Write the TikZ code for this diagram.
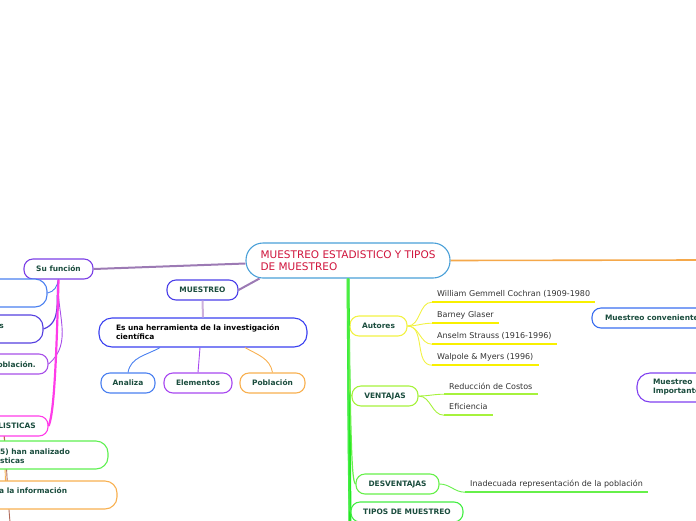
\documentclass[tikz,border=0pt]{standalone}
\usepackage{fontspec}
\setmainfont{DejaVu Sans}
\usepackage{tikz}
\definecolor{TitleBlue}{HTML}{4AA0D8}
\definecolor{TitleRed}{HTML}{D0143C}
\definecolor{TopicInk}{HTML}{1B4D3E}
\definecolor{LeafInk}{HTML}{333333}
\definecolor{BranchPurple}{HTML}{9C7AB4}
\definecolor{StemLilac}{HTML}{CDB0DC}
\definecolor{FunPurple}{HTML}{7B3FE6}
\definecolor{FnBlue}{HTML}{4A80F0}
\definecolor{FnIndigo}{HTML}{5540E0}
\definecolor{FnPurple}{HTML}{A850E8}
\definecolor{FnMagenta}{HTML}{FF3CE8}
\definecolor{FnGreen}{HTML}{5EF050}
\definecolor{FnOrange}{HTML}{F8B050}
\definecolor{LowBrown}{HTML}{B06A5A}
\definecolor{MuestBlue}{HTML}{4B3FE8}
\definecolor{HerrBlue}{HTML}{3A40F0}
\definecolor{AnalizaBlue}{HTML}{4A80F0}
\definecolor{ElemPurple}{HTML}{A848F0}
\definecolor{PoblOrange}{HTML}{F8B050}
\definecolor{OrangeLine}{HTML}{F5A84A}
\definecolor{TrunkGreen}{HTML}{22E822}
\definecolor{AutYellow}{HTML}{F2F244}
\definecolor{LeafYellow}{HTML}{F8F000}
\definecolor{VentLime}{HTML}{A6F23C}
\definecolor{DesvGreen}{HTML}{66F04A}
\definecolor{TiposGreen}{HTML}{44EE44}
\definecolor{ConvBlue}{HTML}{3A6EF0}
\definecolor{ImpPurple}{HTML}{8040F0}
\newcommand{\MapTopicFont}{\bfseries\fontsize{7.45}{9}\selectfont}
\newcommand{\MapLeafFont}{\fontsize{8}{9}\selectfont}
\newcommand{\MapTitleFont}{\fontsize{10.5}{12}\selectfont}

\begin{document}
\begin{tikzpicture}[x=1pt, y=-1pt,
	topic/.style={draw=#1, line width=1.1pt, rounded corners=9pt, fill=white,
		font=\MapTopicFont, text=TopicInk, inner sep=0pt, minimum height=20pt},
	bigtopic/.style={topic=#1, rounded corners=12pt, minimum height=28pt},
	cuttext/.style={font=\MapTopicFont, text=TopicInk, inner sep=0pt},
	leaf/.style={font=\MapLeafFont, text=LeafInk, inner xsep=5pt, inner ysep=0pt,
		minimum height=16pt, anchor=west},
	uline/.style={draw=#1, line width=1.6pt},
	link/.style={draw=#1, line width=0.9pt}]
	% the visible part of the map
	\useasboundingbox (0,0) rectangle (696,520);
	\clip (0,0) rectangle (696,520);

	% central topic
	\node[draw=TitleBlue, line width=1.1pt, rounded corners=17pt, fill=white,
		minimum width=204pt, minimum height=35pt, inner sep=0pt, align=left,
		font=\MapTitleFont, text=TitleRed] (title) at (348,260.5)
		{MUESTREO ESTADISTICO Y TIPOS\\DE MUESTREO};

	% green trunk and the branch to the right
	\coordinate (trunkend) at (350,522);
	\coordinate (rightend) at (698,260);
	\draw[TrunkGreen, line width=3pt] (title.south) -- (trunkend);
	\draw[OrangeLine, line width=1.6pt] (title.east) -- (rightend);

	% lines running behind the lower left boxes
	\coordinate (lowtop) at (4,432);
	\coordinate (lowmid) at (6,500);
	\coordinate (lowend) at (10,522);
	\draw[link=FnOrange] (lowtop) -- (lowmid);
	\draw[link=LowBrown] (lowtop) to[out=-85,in=95] (lowend);

	% Su funcion and its children
	\node[topic=FunPurple, minimum width=69pt] (fun) at (58.5,269) {Su función};
	\node[bigtopic=FnBlue, minimum width=160pt] (fnA) at (-33,293) {};
	\node[bigtopic=FnIndigo, minimum width=160pt] (fnB) at (-37,329) {};
	\node[cuttext, anchor=east] (fnBtxt) at (4,326) {s};
	\node[topic=FnPurple, minimum width=160pt] (fnC) at (-32,364) {};
	\node[cuttext, anchor=east] (fnCtxt) at (36,365) {oblación.};
	\node[topic=FnMagenta, minimum width=160pt] (fnD) at (-32,426) {};
	\node[cuttext, anchor=east] (fnDtxt) at (36,426) {LISTICAS};
	\node[bigtopic=FnGreen, minimum width=200pt] (fnE) at (8,455) {};
	\node[cuttext, anchor=west, align=left] (fnEtxt) at (0,456.5)
		{5) han analizado\\sticas};
	\node[bigtopic=FnOrange, minimum width=220pt] (fnF) at (7,495) {};
	\node[cuttext, anchor=west] (fnFtxt) at (-1,491) {a la información};

	\draw[BranchPurple, line width=2pt] ([yshift=-3pt]title.west) -- (fun.east);
	\draw[link=FnBlue] (fun.south) to[out=-100,in=10] (fnA.east);
	\draw[link=FnIndigo, line width=1.2pt] (fun.south) to[out=-100,in=20] (fnB.east);
	\draw[link=FnPurple] (fun.south) to[out=-95,in=40] (fnC.east);
	\draw[FnMagenta, line width=2.2pt] (fun.south) .. controls (56,380) and (53,416) .. (fnD.east);

	% MUESTREO
	\node[topic=MuestBlue, minimum width=71pt] (muestreo) at (202.5,290) {MUESTREO};
	\node[topic=HerrBlue, rounded corners=13pt, minimum width=208pt,
		minimum height=29pt, text width=174pt, align=left, text=black]
		(herram) at (203,332.5) {Es una herramienta de la investigación\\científica};
	\node[topic=AnalizaBlue, minimum width=54pt] (analiza) at (128,383) {Analiza};
	\node[topic=ElemPurple, minimum width=68pt] (elementos) at (198,383) {Elementos};
	\node[topic=PoblOrange, minimum width=65pt] (poblacion) at (272.5,383) {Población};

	\draw[BranchPurple, line width=2pt] ([xshift=14pt]title.south west) -- (muestreo.east);
	\draw[StemLilac, line width=2pt] (muestreo.south) -- (herram.north);
	\draw[link=AnalizaBlue] ([xshift=-43pt]herram.south) to[out=-150,in=80] (analiza.north);
	\draw[link=ElemPurple] ([xshift=-3pt]herram.south) -- (elementos.north);
	\draw[link=PoblOrange] ([xshift=42pt]herram.south) to[out=-30,in=100] (poblacion.north);

	% Autores
	\node[topic=AutYellow, minimum width=57pt] (autores) at (378.5,326) {Autores};
	\node[leaf] (cochran) at (432,294) {William Gemmell Cochran (1909-1980};
	\node[leaf] (glaser) at (432,315) {Barney Glaser};
	\node[leaf] (strauss) at (432,336) {Anselm Strauss (1916-1996)};
	\node[leaf] (walpole) at (432,357) {Walpole \& Myers (1996)};
	\draw[uline=LeafYellow] (cochran.south west) -- (cochran.south east);
	\draw[uline=LeafYellow] (glaser.south west) -- (glaser.south east);
	\draw[uline=LeafYellow] (strauss.south west) -- (strauss.south east);
	\draw[uline=LeafYellow] (walpole.south west) -- (walpole.south east);
	\draw[link=AutYellow] (autores.east) to[out=0,in=180] (cochran.south west);
	\draw[link=AutYellow] (autores.east) to[out=0,in=180] (glaser.south west);
	\draw[link=AutYellow] (autores.east) to[out=0,in=180] (strauss.south west);
	\draw[link=AutYellow] (autores.east) to[out=0,in=180] (walpole.south west);

	% VENTAJAS
	\node[topic=VentLime, minimum width=66pt] (ventajas) at (385,396) {VENTAJAS};
	\node[leaf] (costos) at (444,386) {Reducción de Costos};
	\node[leaf] (eficiencia) at (444,407) {Eficiencia};
	\draw[uline=VentLime] (costos.south west) -- (costos.south east);
	\draw[uline=VentLime] (eficiencia.south west) -- (eficiencia.south east);
	\draw[link=VentLime] (ventajas.east) to[out=0,in=180] (costos.south west);
	\draw[link=VentLime] (ventajas.east) to[out=0,in=180] (eficiencia.south west);

	% DESVENTAJAS
	\node[topic=DesvGreen, minimum width=83pt] (desv) at (397.5,484) {DESVENTAJAS};
	\node[leaf] (repres) at (465,484) {Inadecuada representación de la población};
	\draw[uline=DesvGreen] (repres.south west) -- (repres.south east);
	\draw[link=DesvGreen] (desv.east) to[out=0,in=180] (repres.south west);

	% TIPOS DE MUESTREO
	\node[topic=TiposGreen, minimum width=112pt] (tipos) at (407,512) {TIPOS DE MUESTREO};

	% branches off the trunk
	\draw[TrunkGreen, line width=1.5pt] (title.south) .. controls (348,310) and (349,326) .. (autores.west);
	\draw[VentLime, line width=1.2pt] (title.south) .. controls (348,370) and (349,396) .. (ventajas.west);
	\draw[DesvGreen, line width=1.2pt] (title.south) .. controls (351,430) and (351,480) .. (desv.west);
	\draw[TiposGreen, line width=1.5pt] (title.south) .. controls (348,480) and (349,512) .. (tipos.west);

	% types on the right
	\node[topic=ConvBlue, minimum width=160pt, text width=134pt, align=left]
		(conv) at (672,318) {Muestreo conveniente};
	\node[topic=ImpPurple, rounded corners=13pt, minimum width=120pt,
		minimum height=29pt, text width=88pt, align=left]
		(import) at (697,387.5) {Muestreo\\Importante};
\end{tikzpicture}
\end{document}
